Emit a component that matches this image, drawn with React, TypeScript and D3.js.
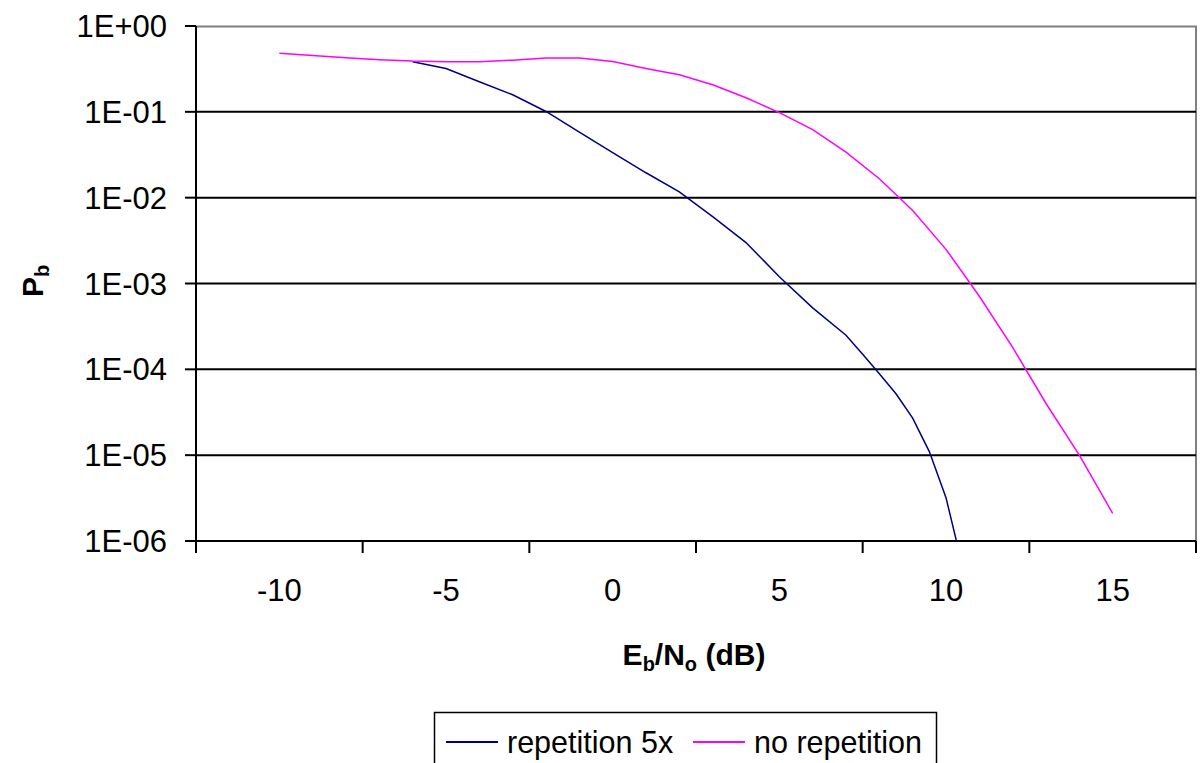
import React from 'react'
import * as d3 from 'd3'

// Eb/No in dB and bit error probability for each curve
const ebnoRep = [
  -6, -5, -4, -3, -2, -1, 0, 1, 2, 3, 4, 5, 6, 7, 7.5, 8, 8.5, 9, 9.5, 10, 10.5,
]
const pbRep = [
  0.384, 0.32, 0.224, 0.158, 0.101, 0.058, 0.0335, 0.0195, 0.0117, 0.006,
  0.003, 0.0012, 5.2e-4, 2.5e-4, 1.5e-4, 8.9e-5, 5.2e-5, 2.7e-5, 1.1e-5,
  3.2e-6, 5.0e-7,
]
const ebnoNoRep = [
  -10, -9, -8, -7, -6, -5, -4, -3, -2, -1, 0, 1, 2, 3, 4, 5, 6, 7, 8, 9, 10, 11,
  12, 13, 14, 15,
]
const pbNoRep = [
  0.48, 0.452, 0.427, 0.405, 0.39, 0.384, 0.384, 0.4, 0.425, 0.425, 0.385,
  0.32, 0.27, 0.207, 0.146, 0.098, 0.062, 0.034, 0.0166, 0.0071, 0.0025,
  7.1e-4, 1.8e-4, 4.0e-5, 1.0e-5, 2.1e-6,
]
const xTickLabels = [-10, -5, 0, 5, 10, 15]
const xBoundaries = [-12.5, -7.5, -2.5, 2.5, 7.5, 12.5, 17.5]
const yTicks = [1, 1e-1, 1e-2, 1e-3, 1e-4, 1e-5, 1e-6]
const seriesNames = ['repetition 5x', 'no repetition']
const seriesColors = ['#000080', '#FF00FF']

const W = 1203
const H = 763
const font = '"Liberation Sans", Arial, sans-serif'

export default function App() {
  const x = d3.scaleLinear().domain([-12.5, 17.5]).range([196, 1196])
  const y = d3.scaleLog().domain([1e-6, 1]).range([541, 26])

  const line = d3
    .line<[number, number]>()
    .x((d) => x(d[0]))
    .y((d) => y(d[1]))

  const series = [
    ebnoRep.map((e, i) => [e, pbRep[i]] as [number, number]),
    ebnoNoRep.map((e, i) => [e, pbNoRep[i]] as [number, number]),
  ]

  const fmt = (v: number) => {
    const p = Math.round(Math.log10(v))
    return p === 0 ? '1E+00' : `1E-0${-p}`
  }

  return (
    <svg
      width={W}
      height={H}
      style={{ position: 'absolute', left: 0, top: 0, background: '#fff' }}
      fontFamily={font}
    >
      <defs>
        <clipPath id="plot">
          <rect x={196} y={26} width={1000} height={515} />
        </clipPath>
      </defs>

      {/* plot area border */}
      <rect x={196} y={26.5} width={1000} height={514.5} fill="none" stroke="#808080" strokeWidth={2} />

      {/* gridlines */}
      {yTicks.slice(1, -1).map((t) => (
        <line key={t} x1={196} x2={1196} y1={y(t)} y2={y(t)} stroke="#000" strokeWidth={2} />
      ))}

      {/* axes */}
      <line x1={196} x2={196} y1={26} y2={541} stroke="#000" strokeWidth={2} />
      <line x1={196} x2={1196} y1={541} y2={541} stroke="#000" strokeWidth={2} />
      {yTicks.map((t) => (
        <g key={t}>
          <line x1={185} x2={196} y1={y(t)} y2={y(t)} stroke="#000" strokeWidth={2} />
          <text x={167} y={y(t)} dy="0.36em" textAnchor="end" fontSize={31} fill="#000">
            {fmt(t)}
          </text>
        </g>
      ))}
      {xBoundaries.map((b) => (
        <line key={b} x1={x(b)} x2={x(b)} y1={541} y2={553} stroke="#000" strokeWidth={2} />
      ))}
      {xTickLabels.map((t) => (
        <text key={t} x={x(t)} y={590} dy="0.36em" textAnchor="middle" fontSize={31} fill="#000">
          {t}
        </text>
      ))}

      {/* series */}
      <g clipPath="url(#plot)">
        {series.map((s, i) => (
          <path key={i} d={line(s) || ''} fill="none" stroke={seriesColors[i]} strokeWidth={1.5} />
        ))}
      </g>

      {/* axis titles */}
      <text x={694} y={665} textAnchor="middle" fontSize={30} fontWeight="bold" fill="#000">
        E<tspan fontSize={20} dy={6}>b</tspan>
        <tspan dy={-6}>/N</tspan>
        <tspan fontSize={20} dy={6}>o</tspan>
        <tspan dy={-6}> (dB)</tspan>
      </text>
      <text transform="translate(43,281) rotate(-90)" textAnchor="middle" fontSize={30} fontWeight="bold" fill="#000">
        P<tspan fontSize={20} dy={6}>b</tspan>
      </text>

      {/* legend */}
      <rect x={434.5} y={712.5} width={502} height={70} fill="#fff" stroke="#000" strokeWidth={1.5} />
      {seriesNames.map((n, i) => {
        const lx = i === 0 ? 446 : 693
        return (
          <g key={n}>
            <line x1={lx} x2={lx + 52} y1={742} y2={742} stroke={seriesColors[i]} strokeWidth={2} />
            <text x={lx + 61} y={742} dy="0.36em" fontSize={30.5} fill="#000">
              {n}
            </text>
          </g>
        )
      })}
    </svg>
  )
}
